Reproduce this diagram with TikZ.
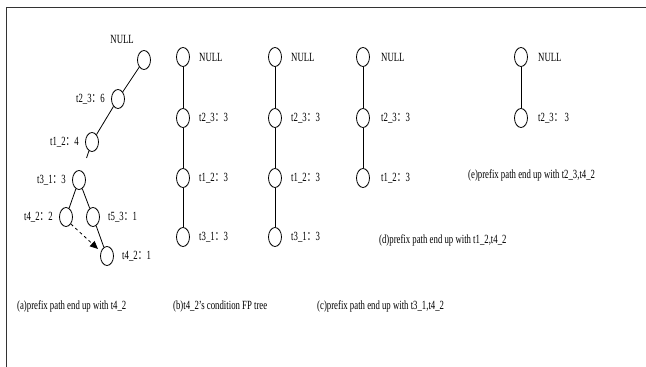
\documentclass[tikz,border=0pt]{standalone}
\usepackage{fontspec}
\setmainfont[FakeStretch=0.7]{Liberation Serif}
\newfontfamily\cjk[FakeStretch=0.7]{Noto Sans CJK SC}
\usetikzlibrary{shapes.geometric,arrows.meta,calc}
\newcommand{\cln}{{\cjk ：}}
\begin{document}
\begin{tikzpicture}[x=1pt,y=-1pt,
  every node/.style={font=\fontsize{12.5}{14}\selectfont},
  nd/.style={draw, ellipse, minimum width=13pt, minimum height=19pt, inner sep=0pt, line width=0.8pt},
  edge/.style={line width=0.8pt},
  lbl/.style={inner sep=0pt},
  lblL/.style={lbl, anchor=west},
  lblR/.style={lbl, anchor=east}]
\useasboundingbox (0,0) rectangle (646,367);
\draw[line width=0.9pt, black!80] (6,367) -- (6,7) -- (646,7);

% (a) tree
\node[nd] (aN) at (144,60) {};
\node[nd] (a23) at (118,99) {};
\node[nd] (a12) at (92,142) {};
\node[nd] (a31) at (79,180) {};
\node[nd] (a42l) at (66,217) {};
\node[nd] (a53) at (93,217) {};
\node[nd] (a42b) at (107,256) {};
\node[lblR] (aNl) at (134,39) {NULL};
\node[lblR] (a23l) at (105,99) {t2\_3\cln 6};
\node[lblR] (a12l) at (79,142) {t1\_2\cln 4};
\node[lblR] (a31l) at (66,180) {t3\_1\cln 3};
\node[lblR] (a42ll) at (53,217) {t4\_2\cln 2};
\node[lblL] (a53l) at (108,217) {t5\_3\cln 1};
\node[lblL] (a42bl) at (122,256) {t4\_2\cln 1};
\draw[edge] (aN) -- (a23);
\draw[edge] (a23) -- (a12);
\draw[edge] (a12) -- ($(a12)!0.42!(a31)$);
\draw[edge] (a31) -- (a42l);
\draw[edge] (a31) -- (a53);
\draw[edge] (a53) -- (a42b);
\coordinate (tip) at (98,249);
\draw[edge, dashed, -{Triangle[length=8pt,width=7pt]}] (a42l.south east) -- (tip);

% (b)
\node[nd] (bN) at (183,57) {};
\node[nd] (b23) at (183,118) {};
\node[nd] (b12) at (183,178) {};
\node[nd] (b31) at (183,237) {};
\node[lblL] (bNl) at (199,57) {NULL};
\node[lblL] (b23l) at (199,118) {t2\_3\cln 3};
\node[lblL] (b12l) at (199,178) {t1\_2\cln 3};
\node[lblL] (b31l) at (199,237) {t3\_1\cln 3};
\draw[edge] (bN) -- (b23) -- (b12) -- (b31);

% (c)
\node[nd] (cN) at (275,57) {};
\node[nd] (c23) at (275,118) {};
\node[nd] (c12) at (275,178) {};
\node[nd] (c31) at (275,237) {};
\node[lblL] (cNl) at (291,57) {NULL};
\node[lblL] (c23l) at (291,118) {t2\_3\cln 3};
\node[lblL] (c12l) at (291,178) {t1\_2\cln 3};
\node[lblL] (c31l) at (291,237) {t3\_1\cln 3};
\draw[edge] (cN) -- (c23) -- (c12) -- (c31);

% (d)
\node[nd] (dN) at (363,57) {};
\node[nd] (d23) at (363,118) {};
\node[nd] (d12) at (363,178) {};
\node[lblL] (dNl) at (381,57) {NULL};
\node[lblL] (d23l) at (381,118) {t2\_3\cln 3};
\node[lblL] (d12l) at (381,178) {t1\_2\cln 3};
\draw[edge] (dN) -- (d23) -- (d12);

% (e)
\node[nd] (eN) at (521,57) {};
\node[nd] (e23) at (521,118) {};
\node[lblL] (eNl) at (538,57) {NULL};
\node[lblL] (e23l) at (538,118) {t2\_3\cln\ 3};
\draw[edge] (eN) -- (e23);

% captions
\node[lblL] (capE) at (468,175) {(e)prefix path end up with t2\_3,t4\_2};
\node[lblL] (capD) at (379,240) {(d)prefix path end up with t1\_2,t4\_2};
\node[lblL] (capA) at (17,306) {(a)prefix path end up with t4\_2};
\node[lblL] (capB) at (173,306) {(b)t4\_2's condition FP tree};
\node[lblL] (capC) at (317,306) {(c)prefix path end up with t3\_1,t4\_2};
\end{tikzpicture}
\end{document}
